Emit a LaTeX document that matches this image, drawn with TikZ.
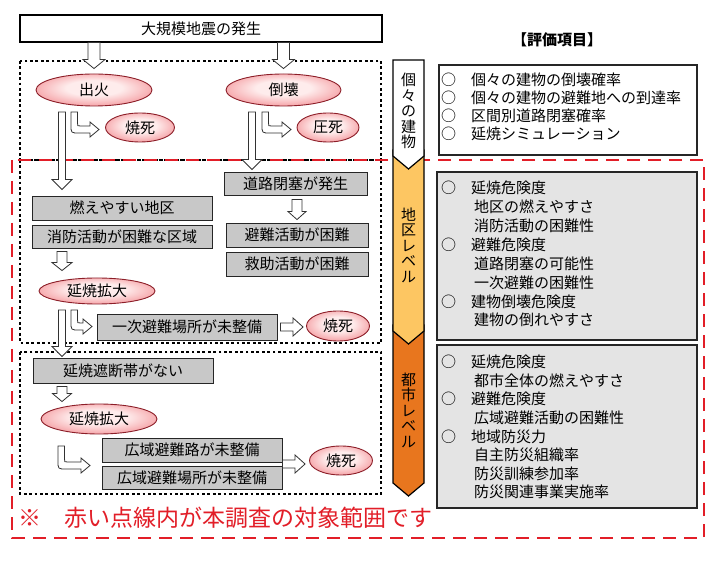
\documentclass[tikz,border=0pt]{standalone}
\usepackage{fontspec}
\setmainfont{Noto Sans CJK JP}
\usetikzlibrary{calc,shapes.geometric}
\definecolor{redline}{RGB}{226,30,40}
\definecolor{graybox}{RGB}{200,200,200}
\definecolor{lightbox}{RGB}{228,228,228}
\definecolor{ellred}{RGB}{232,80,92}
\definecolor{ellmid}{RGB}{244,150,155}
\definecolor{ellpink}{RGB}{254,236,236}
\definecolor{ellline}{RGB}{140,30,40}
\definecolor{yel}{RGB}{253,198,98}
\definecolor{org}{RGB}{232,118,30}
\definecolor{arrline}{RGB}{50,50,50}

\pgfdeclareradialshading{ellshade}{\pgfpoint{0bp}{4bp}}{%
  color(0bp)=(ellpink); color(12bp)=(ellpink); color(30bp)=(ellmid); color(44bp)=(ellred); color(60bp)=(ellred)}

\newcommand\mkvarrow[5]{%
  \path let \p1=#1, \p2=#2 in [blk] (\x1-#3pt,\y1) -- (\x1+#3pt,\y1) -- (\x1+#3pt,\y2+#5pt) -- (\x1+#4pt,\y2+#5pt) -- (\x1,\y2) -- (\x1-#4pt,\y2+#5pt) -- (\x1-#3pt,\y2+#5pt) -- cycle;}
\newcommand\mkharrow[5]{%
  \path let \p1=#1, \p2=#2 in [blk] (\x1,\y1+#3pt) -- (\x2-#5pt,\y1+#3pt) -- (\x2-#5pt,\y1+#4pt) -- (\x2,\y1) -- (\x2-#5pt,\y1-#4pt) -- (\x2-#5pt,\y1-#3pt) -- (\x1,\y1-#3pt) -- cycle;}
\newcommand\mkhook[4]{%
  \path[blk] (#1,#2) -- (#1,#3-8) .. controls (#1,#3) .. (#1+8,#3) -- (#4-9,#3) -- (#4-9,#3+4) -- (#4,#3-3.5) -- (#4-9,#3-11) -- (#4-9,#3-7) -- (#1+9.5,#3-7) .. controls (#1+6.5,#3-7) .. (#1+6.5,#3-10) -- (#1+6.5,#2) -- cycle;}

\begin{document}
\begin{tikzpicture}[x=1pt,y=-1pt,
  font=\fontsize{15}{18}\selectfont,
  blk/.style={draw=arrline,fill=white,line width=0.8pt,line join=miter},
  plainbox/.style={draw=black,line width=1.2pt,fill=white,inner sep=0pt},
  gbox/.style={draw=black!85,line width=0.9pt,fill=graybox,inner sep=0pt},
  ell/.style={ellipse,draw=ellline,line width=0.9pt,shading=ellshade,inner sep=0pt},
  dotbox/.style={draw=black,line width=2.8pt,dash pattern=on 2.8pt off 2.6pt},
  reddash/.style={draw=redline,line width=2.2pt,dash pattern=on 13pt off 8pt},
  chev/.style={draw=black,line width=1.2pt,line join=miter},
  rbox/.style={draw=black!85,line width=1.3pt,inner sep=0pt},
  item/.style={anchor=west,inner sep=0pt}]
\useasboundingbox (0,0) rectangle (710,569);
\fill[white] (0,0) rectangle (710,569);

% dotted frames
\draw[dotbox] (20,61) rectangle (381,160);
\draw[dotbox] (20,160) rectangle (381,343);
\draw[dotbox] (20,352) rectangle (381,494);

% red dashed target range
\draw[reddash] (12,160) rectangle (704,538);

% top box
\node[plainbox,minimum width=362pt,minimum height=27pt] (top) at (201,28.5) {大規模地震の発生};

% ellipses
\node[ell,minimum width=116pt,minimum height=32pt] (fire) at (94,90) {出火};
\node[ell,minimum width=115pt,minimum height=32pt] (collapse) at (283.5,90) {倒壊};
\node[ell,minimum width=69pt,minimum height=29pt] (burnA) at (140,127.5) {焼死};
\node[ell,minimum width=62pt,minimum height=29pt] (crush) at (328,127.5) {圧死};

% district level
\node[gbox,minimum width=143pt,minimum height=23pt] (road) at (295.5,183.5) {道路閉塞が発生};
\node[gbox,minimum width=180pt,minimum height=24pt] (flam) at (122,208) {燃えやすい地区};
\node[gbox,minimum width=180pt,minimum height=23pt] (hard) at (122,236.5) {消防活動が困難な区域};
\node[gbox,minimum width=142pt,minimum height=24pt] (evac) at (297,235) {避難活動が困難};
\node[gbox,minimum width=142pt,minimum height=24pt] (rescue) at (297,264) {救助活動が困難};
\node[ell,minimum width=116pt,minimum height=26pt] (spreadA) at (97,291) {延焼拡大};
\node[gbox,minimum width=180pt,minimum height=26pt] (prim) at (187,327) {一次避難場所が未整備};
\node[ell,minimum width=63pt,minimum height=30pt] (burnB) at (338,326) {焼死};

% city level
\node[gbox,minimum width=180pt,minimum height=25pt] (nobreak) at (123,370.5) {延焼遮断帯がない};
\node[ell,minimum width=116pt,minimum height=30pt] (spreadB) at (99,419) {延焼拡大};
\node[gbox,minimum width=180pt,minimum height=24pt] (wroad) at (192,450) {広域避難路が未整備};
\node[gbox,minimum width=180pt,minimum height=23pt] (warea) at (192,477.5) {広域避難場所が未整備};
\node[ell,minimum width=63pt,minimum height=29pt] (burnC) at (341,460.5) {焼死};

% arrow start coordinates
\coordinate (s3) at (62,112);
\coordinate (s4) at (252,112);
\coordinate (s7) at (62,310);

% block arrows
\mkvarrow{(top.south -| fire)}{($(fire.north)+(0,-5)$)}{6}{11}{9}
\mkvarrow{(top.south -| collapse)}{($(collapse.north)+(0,-5)$)}{6}{11}{9}
\mkvarrow{(s3)}{($(flam.north)+(0,-6)$)}{3.5}{10}{10}
\mkvarrow{(s4)}{($(road.north)+(0,-2)$)}{3.5}{10}{10}
\mkvarrow{($(road.south -| evac)+(0,4)$)}{($(evac.north)+(0,-3)$)}{5}{9}{8}
\mkvarrow{($(hard.south -| s3)+(0,3)$)}{($(spreadA.north -| s3)+(0,-7)$)}{5}{10}{8}
\mkvarrow{(s7)}{($(nobreak.north)+(0,-1)$)}{3.5}{10}{10}
\mkvarrow{($(nobreak.south -| s3)+(0,3)$)}{($(spreadB.north)+(0,-2)$)}{5}{9.5}{8}
\mkharrow{($(prim.east)+(3,0)$)}{($(burnB.west)+(-3,0)$)}{4}{9}{10}
\mkharrow{($(wroad.south east)!0.5!(warea.north east)$)}{($(burnC.west)+(-4,0)$)}{4}{9}{10}

% hook arrows
\mkhook{71}{112}{133}{99}
\mkhook{262}{112}{133}{291}
\mkhook{71}{310}{330}{92}
\mkhook{58}{446}{469}{90}

% level chevrons
\draw[chev,fill=org] (393,325) -- (424,325) -- (424,483) -- (408.5,496) -- (393,483) -- cycle;
\draw[chev,fill=yel] (393,150) -- (424,150) -- (424,331) -- (408.5,344) -- (393,331) -- cycle;
\draw[chev,fill=white] (393,60) -- (424,60) -- (424,156) -- (408.5,169) -- (393,156) -- cycle;
\node[align=center,inner sep=0pt,font=\fontsize{15}{15.5}\selectfont] (lv1) at (408.5,111) {個\\々\\の\\建\\物};
\node[align=center,inner sep=0pt,font=\fontsize{15}{15.5}\selectfont] (lv2) at (408.5,245) {地\\区\\レ\\ベ\\ル};
\node[align=center,inner sep=0pt,font=\fontsize{15}{15.5}\selectfont] (lv3) at (408.5,410) {都\\市\\レ\\ベ\\ル};

% evaluation items
\node[inner sep=0pt,font=\fontsize{15}{18}\selectfont\bfseries] (title) at (557,40) {【評価項目】};
\node[rbox,fill=white,minimum width=258pt,minimum height=90pt] (boxA) at (568,110) {};
\node[rbox,fill=lightbox,minimum width=260pt,minimum height=168pt] (boxB) at (567,256) {};
\node[rbox,fill=lightbox,minimum width=260pt,minimum height=163pt] (boxC) at (567,426.5) {};

\node[item] (a1) at (441,80) {○　個々の建物の倒壊確率};
\node[item] (a2) at (441,98) {○　個々の建物の避難地への到達率};
\node[item] (a3) at (441,116) {○　区間別道路閉塞確率};
\node[item] (a4) at (441,134) {○　延焼シミュレーション};

\node[item] (b1) at (441,188) {○　延焼危険度};
\node[item] (b2) at (474,206.9) {地区の燃えやすさ};
\node[item] (b3) at (474,225.8) {消防活動の困難性};
\node[item] (b4) at (441,244.7) {○　避難危険度};
\node[item] (b5) at (474,263.6) {道路閉塞の可能性};
\node[item] (b6) at (474,282.5) {一次避難の困難性};
\node[item] (b7) at (441,301.4) {○　建物倒壊危険度};
\node[item] (b8) at (474,320.3) {建物の倒れやすさ};

\node[item] (c1) at (441,362) {○　延焼危険度};
\node[item] (c2) at (474,380.6) {都市全体の燃えやすさ};
\node[item] (c3) at (441,399.2) {○　避難危険度};
\node[item] (c4) at (474,417.8) {広域避難活動の困難性};
\node[item] (c5) at (441,436.4) {○　地域防災力};
\node[item] (c6) at (474,455) {自主防災組織率};
\node[item] (c7) at (474,473.6) {防災訓練参加率};
\node[item] (c8) at (474,492.2) {防災関連事業実施率};

% note
\node[item,text=redline,font=\fontsize{23}{25}\selectfont] (note) at (18,518) {※　赤い点線内が本調査の対象範囲です};
\end{tikzpicture}
\end{document}
